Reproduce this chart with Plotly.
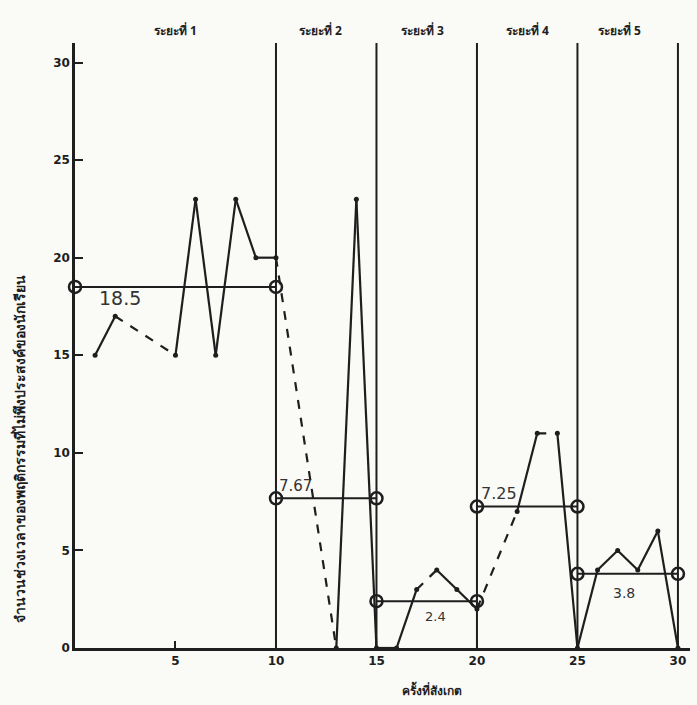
import plotly.graph_objects as go

# ---- data ----
observations = list(range(1, 31))
values = [15, 17, None, None, 15, 23, 15, 23, 20, 20,
          None, None, 0, 23, 0,
          0, 3, 4, 3, 2,
          None, 7, 11, 11, 0,
          4, 5, 4, 6, 0]
dashed_links = [(2, 5), (10, 13), (17, 18), (20, 22), (23, 24)]

phase_edges = [0, 10, 15, 20, 25, 30]
phase_means = [18.5, 7.67, 2.4, 7.25, 3.8]
phase_labels = ["ระยะที่ 1", "ระยะที่ 2", "ระยะที่ 3", "ระยะที่ 4", "ระยะที่ 5"]
phase_label_x = [5.0, 12.2, 17.3, 22.5, 27.1]
mean_texts = ["18.5", "7.67", "2.4", "7.25", "3.8"]
mean_text_pos = [(2.25, 17.95, 19), (10.95, 8.3, 15), (17.95, 1.6, 13), (21.1, 7.9, 16), (27.3, 2.8, 14)]

x_title = "ครั้งที่สังเกต"
y_title = "จำนวนช่วงเวลาของพฤติกรรมที่ไม่พึงประสงค์ของนักเรียน"

INK = "#1e1e1e"
XMAX, YMAX = 30.6, 31.0
PLOT_W, PLOT_H = 615, 605

# ---- build segments ----
pts = [(x, v) for x, v in zip(observations, values) if v is not None]
solid_x, solid_y, dash_x, dash_y = [], [], [], []
for (x0, y0), (x1, y1) in zip(pts[:-1], pts[1:]):
    if (x0, x1) in dashed_links:
        dash_x += [x0, x1, None]
        dash_y += [y0, y1, None]
    else:
        solid_x += [x0, x1, None]
        solid_y += [y0, y1, None]

fig = go.Figure()

# phase mean lines
for i, m in enumerate(phase_means):
    fig.add_trace(go.Scatter(
        x=[phase_edges[i], phase_edges[i + 1]], y=[m, m],
        mode="lines+markers",
        line=dict(color=INK, width=2),
        marker=dict(symbol="circle-open", size=12, color=INK, line=dict(width=2.5)),
        hoverinfo="skip", showlegend=False, cliponaxis=False))

fig.add_trace(go.Scatter(x=solid_x, y=solid_y, mode="lines",
                         line=dict(color=INK, width=2.2),
                         showlegend=False, hoverinfo="skip"))
fig.add_trace(go.Scatter(x=dash_x, y=dash_y, mode="lines",
                         line=dict(color=INK, width=2.2, dash="dash"),
                         showlegend=False, hoverinfo="skip"))
fig.add_trace(go.Scatter(x=[p[0] for p in pts], y=[p[1] for p in pts], mode="markers",
                         marker=dict(color=INK, size=5),
                         showlegend=False, cliponaxis=False))

# phase separators
for e in phase_edges[1:]:
    fig.add_shape(type="line", xref="x", yref="y", x0=e, x1=e, y0=0, y1=YMAX,
                  line=dict(color=INK, width=2))

# phase labels (paper coordinates, above plot)
for lx, lab in zip(phase_label_x, phase_labels):
    fig.add_annotation(x=lx / XMAX, y=1.0 + 12 / PLOT_H, xref="paper", yref="paper",
                       xanchor="center", yanchor="middle",
                       text=f"<b>{lab}</b>", showarrow=False,
                       font=dict(size=12, color=INK))

# mean value labels
for t, (tx, ty, fs) in zip(mean_texts, mean_text_pos):
    fig.add_annotation(x=tx, y=ty, xref="x", yref="y", text=t, showarrow=False,
                       xanchor="center", yanchor="middle",
                       font=dict(size=fs, color="#333333", family="DejaVu Sans"))

# axis titles
fig.add_annotation(x=17.75 / XMAX, y=-42 / PLOT_H, xref="paper", yref="paper",
                   xanchor="center", yanchor="middle",
                   text=f"<b>{x_title}</b>", showarrow=False,
                   font=dict(size=12, color=INK))
fig.add_annotation(x=-55 / PLOT_W, y=10.2 / YMAX, xref="paper", yref="paper",
                   xanchor="center", yanchor="middle",
                   text=f"<b>{y_title}</b>", textangle=-90, showarrow=False,
                   font=dict(size=14, color=INK))

fig.update_xaxes(range=[0, XMAX], tickvals=[5, 10, 15, 20, 25, 30],
                 showline=True, linecolor=INK, linewidth=2.5,
                 ticks="inside", ticklen=7, tickwidth=2, tickcolor=INK,
                 showgrid=False, zeroline=False,
                 tickfont=dict(size=12, color=INK, family="DejaVu Sans", weight="bold"))
fig.update_yaxes(range=[0, YMAX], tickvals=[0, 5, 10, 15, 20, 25, 30],
                 showline=True, linecolor=INK, linewidth=2.5,
                 ticks="inside", ticklen=8, tickwidth=2, tickcolor=INK,
                 showgrid=False, zeroline=False,
                 tickfont=dict(size=12, color=INK, family="DejaVu Sans", weight="bold"))

fig.update_layout(
    width=697, height=705,
    margin=dict(l=75, r=7, t=43, b=57),
    paper_bgcolor="#fafaf7", plot_bgcolor="#fafaf7",
    font=dict(family="Noto Sans, DejaVu Sans", color=INK),
)

fig.write_html("out.html", config={"displayModeBar": False},
               post_script="document.body.style.margin='0';")
